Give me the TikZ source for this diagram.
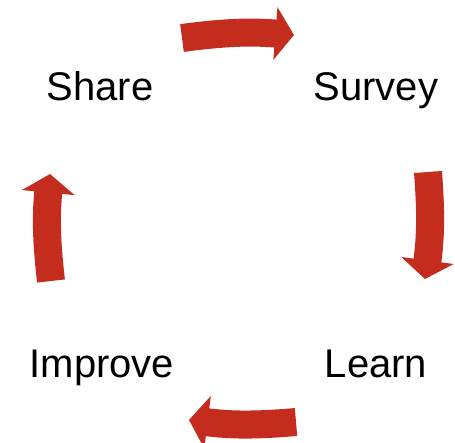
\documentclass[tikz,border=0pt]{standalone}
\usepackage{fontspec}
\setmainfont{Liberation Sans}
\usepackage{tikz}
\usepackage{xcolor}
\usetikzlibrary{arrows.meta}

\definecolor{arrowred}{RGB}{196,44,30}

\tikzset{
  steplabel/.style={anchor=base, font=\fontsize{30}{36}\selectfont},
  cyclearrow/.style={draw=arrowred, line width=21pt,
      -{Triangle[width=39pt,length=14pt]}}
}

\begin{document}
\begin{tikzpicture}[x=0.75pt,y=-0.75pt]
  \useasboundingbox (0,0) rectangle (455,443);

  \node[steplabel] (share)   at (100,100) {Share};
  \node[steplabel] (survey)  at (376,100) {Survey};
  \node[steplabel] (learn)   at (376,377) {Learn};
  \node[steplabel] (improve) at (102,377) {Improve};

  \coordinate (shareout)   at (182,38);
  \coordinate (surveyin)   at (294,35);
  \coordinate (surveyout)  at (428,172);
  \coordinate (learnin)    at (425,279);
  \coordinate (learnout)   at (296,422);
  \coordinate (improvein)  at (189,420);
  \coordinate (improveout) at (51,281);
  \coordinate (sharein)    at (50,174);

  \draw[cyclearrow] (shareout) to[bend left=6] (surveyin);
  \draw[cyclearrow] (surveyout) to[bend left=6] (learnin);
  \draw[cyclearrow] (learnout) to[bend left=6] (improvein);
  \draw[cyclearrow] (improveout) to[bend left=6] (sharein);
\end{tikzpicture}
\end{document}
